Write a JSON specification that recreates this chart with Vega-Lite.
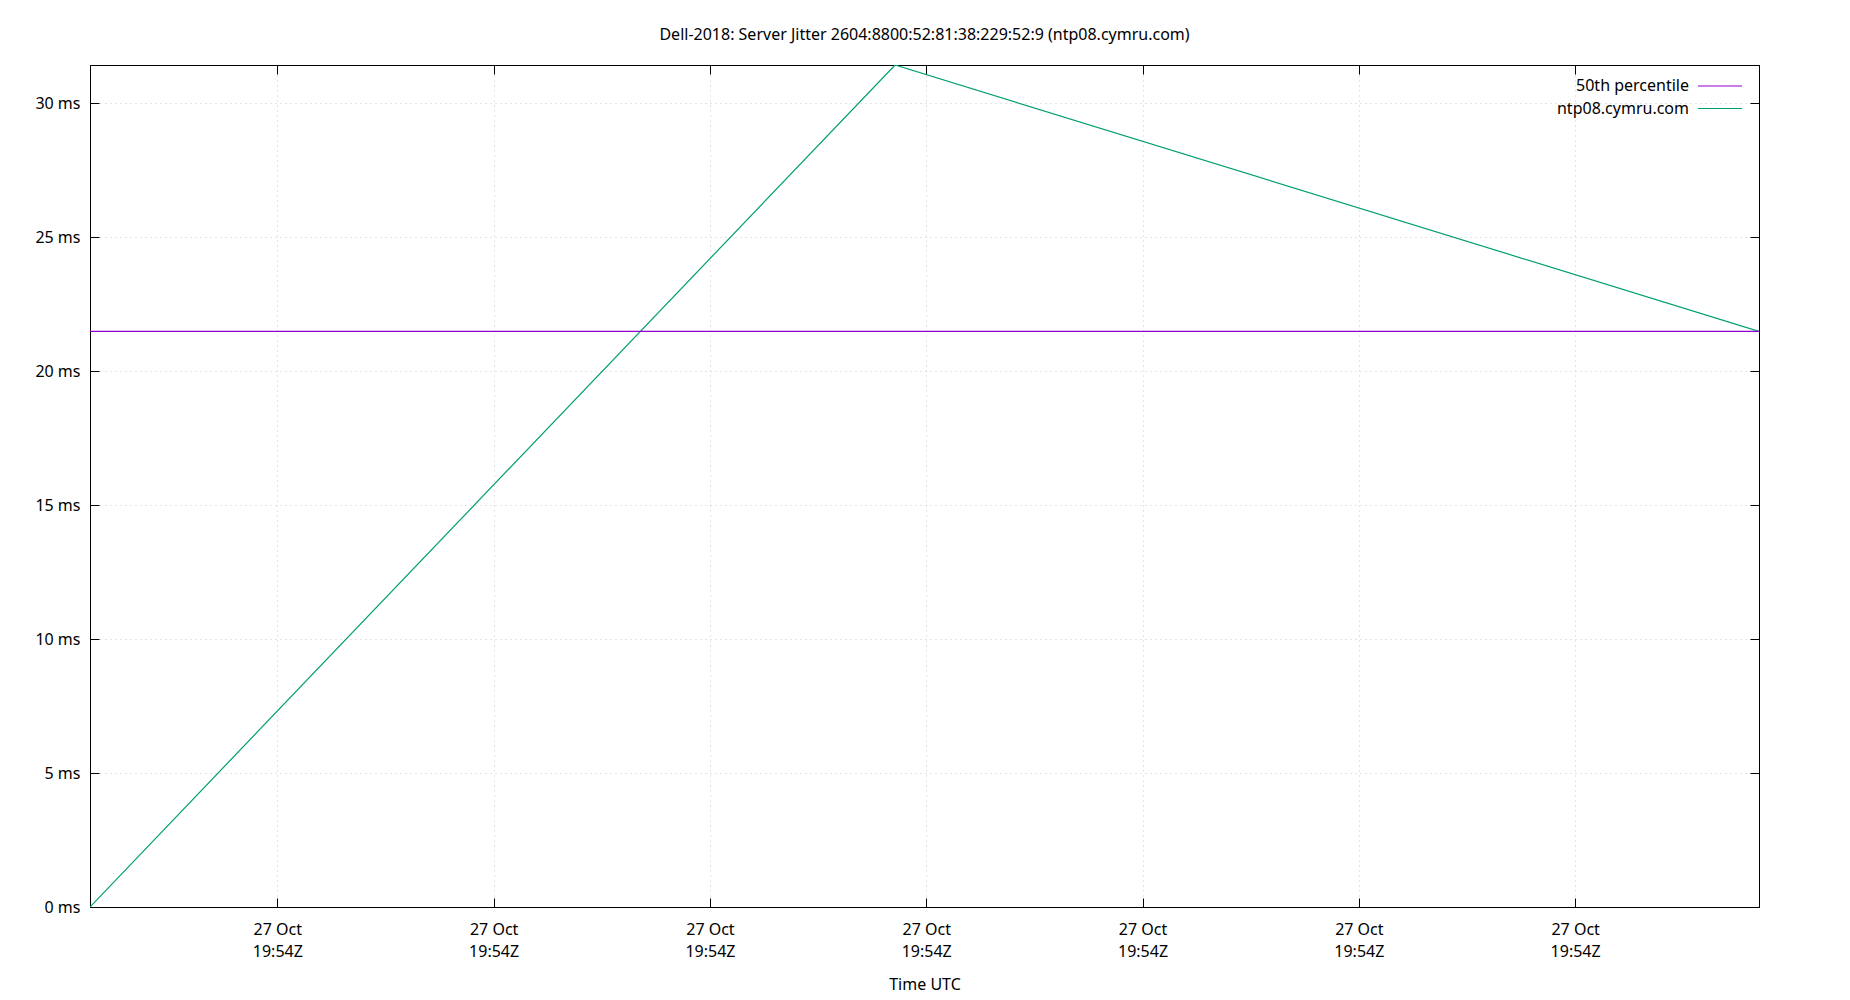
{
  "$schema": "https://vega.github.io/schema/vega-lite/v6.json",
  "autosize": "none",
  "width": 1669,
  "height": 842,
  "padding": {"left": 90, "top": 65, "right": 91, "bottom": 93},
  "background": "white",
  "title": {
    "text": "Dell-2018: Server Jitter 2604:8800:52:81:38:229:52:9 (ntp08.cymru.com)",
    "font": "Noto Sans",
    "fontSize": 16,
    "fontWeight": "normal",
    "color": "#000000",
    "anchor": "middle",
    "baseline": "alphabetic",
    "offset": 8.5
  },
  "config": {
    "view": {"stroke": "#000000", "strokeWidth": 1},
    "font": "Noto Sans",
    "axis": {
      "domainColor": "#000000",
      "tickColor": "#000000",
      "labelColor": "#000000",
      "titleColor": "#000000",
      "labelFont": "Noto Sans",
      "titleFont": "Noto Sans",
      "labelFontSize": 16,
      "titleFontSize": 16,
      "titleFontWeight": "normal",
      "gridColor": "#c8c8c8",
      "gridDash": [1, 4],
      "gridWidth": 1
    }
  },
  "data": {
    "values": [
      {"time": "2023-10-27T19:54:00.134Z", "value": 0, "series": "ntp08.cymru.com"},
      {"time": "2023-10-27T19:54:03.856Z", "value": 31.42, "series": "ntp08.cymru.com"},
      {"time": "2023-10-27T19:54:07.850Z", "value": 21.48, "series": "ntp08.cymru.com"},
      {"time": "2023-10-27T19:54:00.134Z", "value": 21.48, "series": "50th percentile"},
      {"time": "2023-10-27T19:54:07.850Z", "value": 21.48, "series": "50th percentile"}
    ]
  },
  "layer": [
    {
      "mark": {"type": "line", "strokeWidth": 1.2, "clip": true},
      "encoding": {
        "x": {
          "field": "time",
          "type": "temporal",
          "scale": {"type": "utc", "nice": false, "padding": 0},
          "axis": {
            "orient": "bottom",
            "title": "Time UTC",
            "grid": true,
            "tickSize": -9,
            "labelPadding": 23.5,
            "labelLineHeight": 22,
            "labelBaseline": "top",
            "titlePadding": 16.5,
            "labelExpr": "[utcFormat(datum.value, '%d %b'), utcFormat(datum.value, '%H:%MZ')]",
            "values": [
              {"year": 2023, "month": 10, "date": 27, "hours": 19, "minutes": 54, "seconds": 1, "utc": true},
              {"year": 2023, "month": 10, "date": 27, "hours": 19, "minutes": 54, "seconds": 2, "utc": true},
              {"year": 2023, "month": 10, "date": 27, "hours": 19, "minutes": 54, "seconds": 3, "utc": true},
              {"year": 2023, "month": 10, "date": 27, "hours": 19, "minutes": 54, "seconds": 4, "utc": true},
              {"year": 2023, "month": 10, "date": 27, "hours": 19, "minutes": 54, "seconds": 5, "utc": true},
              {"year": 2023, "month": 10, "date": 27, "hours": 19, "minutes": 54, "seconds": 6, "utc": true},
              {"year": 2023, "month": 10, "date": 27, "hours": 19, "minutes": 54, "seconds": 7, "utc": true}
            ]
          }
        },
        "y": {
          "field": "value",
          "type": "quantitative",
          "scale": {"domain": [0, 31.42], "nice": false, "zero": true},
          "axis": {
            "orient": "left",
            "title": null,
            "grid": true,
            "tickSize": -9,
            "labelPadding": 19,
            "values": [0, 5, 10, 15, 20, 25, 30],
            "labelExpr": "datum.value + ' ms'"
          }
        },
        "color": {
          "field": "series",
          "type": "nominal",
          "scale": {"domain": ["50th percentile", "ntp08.cymru.com"], "range": ["#9400d3", "#009e73"]},
          "legend": {
            "title": null,
            "orient": "none",
            "legendX": 1618,
            "legendY": 9,
            "padding": 0,
            "symbolType": "M-2,0H2",
            "symbolSize": 484,
            "symbolStrokeWidth": 1.2,
            "labelAlign": "right",
            "labelOffset": -43,
            "labelFont": "Noto Sans",
            "labelFontSize": 16,
            "labelColor": "#000000",
            "rowPadding": 2.5
          }
        }
      }
    },
    {
      "mark": {"type": "line", "strokeOpacity": 0},
      "encoding": {
        "x": {
          "field": "time",
          "type": "temporal",
          "axis": {
            "orient": "top",
            "title": null,
            "grid": false,
            "labels": false,
            "tickSize": -9,
            "values": [
              {"year": 2023, "month": 10, "date": 27, "hours": 19, "minutes": 54, "seconds": 1, "utc": true},
              {"year": 2023, "month": 10, "date": 27, "hours": 19, "minutes": 54, "seconds": 2, "utc": true},
              {"year": 2023, "month": 10, "date": 27, "hours": 19, "minutes": 54, "seconds": 3, "utc": true},
              {"year": 2023, "month": 10, "date": 27, "hours": 19, "minutes": 54, "seconds": 4, "utc": true},
              {"year": 2023, "month": 10, "date": 27, "hours": 19, "minutes": 54, "seconds": 5, "utc": true},
              {"year": 2023, "month": 10, "date": 27, "hours": 19, "minutes": 54, "seconds": 6, "utc": true},
              {"year": 2023, "month": 10, "date": 27, "hours": 19, "minutes": 54, "seconds": 7, "utc": true}
            ]
          }
        },
        "y": {
          "field": "value",
          "type": "quantitative",
          "axis": {
            "orient": "right",
            "title": null,
            "grid": false,
            "labels": false,
            "tickSize": -9,
            "values": [0, 5, 10, 15, 20, 25, 30]
          }
        },
        "detail": {"field": "series", "type": "nominal"}
      }
    }
  ],
  "resolve": {"axis": {"x": "independent", "y": "independent"}}
}
